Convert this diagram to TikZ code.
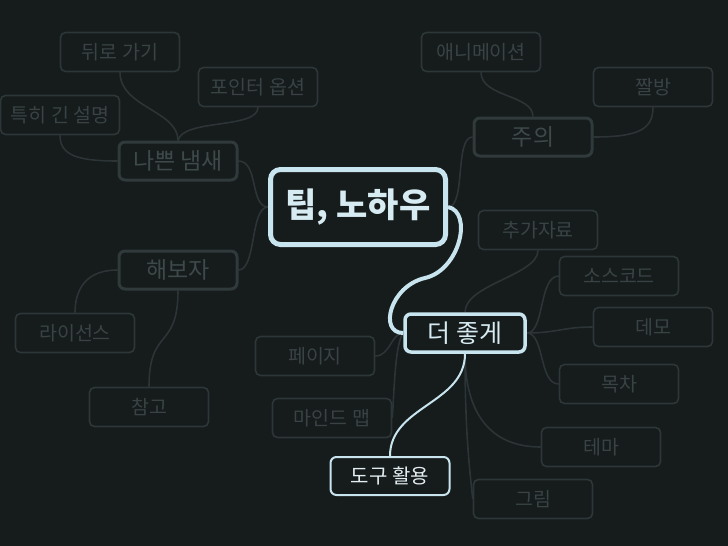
\documentclass[tikz,border=0pt]{standalone}
\usepackage{fontspec}
\newfontfamily\kr{Noto Sans CJK KR}
\definecolor{bg}{HTML}{161B1C}
\definecolor{leafborder}{HTML}{2E3738}
\definecolor{leaftext}{HTML}{394344}
\definecolor{midborder}{HTML}{313A3B}
\definecolor{midtext}{HTML}{3E494A}
\definecolor{lb}{HTML}{C8E4EE}
\definecolor{tiptext}{HTML}{D6EBF2}
\definecolor{tooltext}{HTML}{E4EEF1}
\definecolor{conn}{HTML}{2C3435}
\pgfdeclarelayer{bglayer}
\pgfsetlayers{bglayer,main}
\tikzset{
  leaf/.style={draw=leafborder, fill=bg, line width=1.6pt, rounded corners=5pt, minimum width=119pt, minimum height=39pt, inner sep=0pt, text=leaftext, font=\kr\fontsize{19.5}{22}\selectfont},
  mid/.style={draw=midborder, fill=bg, line width=3pt, rounded corners=6pt, minimum width=118pt, minimum height=38pt, inner sep=0pt, text=midtext, font=\kr\fontsize{23}{26}\selectfont},
  central/.style={draw=lb, fill=bg, line width=5pt, rounded corners=10pt, minimum width=175pt, minimum height=75pt, inner sep=0pt, text=tiptext, font=\kr\bfseries\fontsize{34}{38}\selectfont},
  better/.style={draw=lb, fill=bg, line width=3.5pt, rounded corners=6pt, minimum width=120pt, minimum height=38pt, inner sep=0pt, text=tiptext, font=\kr\fontsize{25}{28}\selectfont},
  tool/.style={draw=lb, fill=bg, line width=2pt, rounded corners=6pt, minimum width=119pt, minimum height=38pt, inner sep=0pt, text=tooltext, font=\kr\fontsize{20}{23}\selectfont},
  link/.style={draw=conn, line width=1.6pt},
  mainlink/.style={draw=lb, line width=4pt},
  sublink/.style={draw=lb, line width=2pt},
}
\begin{document}
\begin{tikzpicture}[x=1pt,y=-1pt]
\begin{pgfonlayer}{bglayer}
\fill[bg] (0,0) rectangle (728,546);
\end{pgfonlayer}
\useasboundingbox (0,0) rectangle (728,546);

\node[central] (tip) at (358,207) {팁, 노하우};
\node[mid] (bad) at (178,161) {나쁜 냄새};
\node[leaf] (back) at (120,52) {뒤로 가기};
\node[leaf] (pointer) at (258,87) {포인터 옵션};
\node[leaf] (long) at (60,115) {특히 긴 설명};
\node[mid] (try) at (178,270) {해보자};
\node[leaf] (license) at (75,333) {라이선스};
\node[leaf] (ref) at (149,407) {참고};
\node[mid] (care) at (533,137) {주의};
\node[leaf] (anim) at (481,52) {애니메이션};
\node[leaf] (zzal) at (653,87) {짤방};
\node[better] (better) at (465,333) {더 좋게};
\node[leaf] (extra) at (538,230) {추가자료};
\node[leaf] (src) at (619,276) {소스코드};
\node[leaf] (demo) at (653,327) {데모};
\node[leaf] (toc) at (619,384) {목차};
\node[leaf] (page) at (315,356) {페이지};
\node[leaf] (mind) at (332,418) {마인드 맵};
\node[tool] (tool) at (390,476) {도구 활용};
\node[leaf] (theme) at (601,447) {테마};
\node[leaf] (pic) at (533,499) {그림};

\begin{pgfonlayer}{bglayer}
\draw[link] (bad.north) .. controls +(0,-30) and +(0,35) .. (back.south);
\draw[link] (bad.north) .. controls +(5,-22) and +(0,22) .. (pointer.south);
\draw[link] (bad.west) .. controls +(-40,0) and +(0,20) .. (long.south);
\draw[link] (tip.west) .. controls +(-18,0) and +(20,0) .. (bad.east);
\draw[link] (tip.west) .. controls +(-18,0) and +(18,0) .. (try.east);
\draw[link] (try.west) .. controls +(-30,0) and +(0,-25) .. (license.north);
\draw[link] (try.south) .. controls +(0,60) and +(0,-60) .. (ref.north);
\draw[link] (tip.east) .. controls +(18,0) and +(-18,0) .. (care.west);
\draw[link] (care.north) .. controls +(0,-22) and +(0,25) .. (anim.south);
\draw[link] (care.east) .. controls +(45,0) and +(0,22) .. (zzal.south);
\draw[link] (better.north) .. controls +(0,-28) and +(0,25) .. (extra.south);
\draw[link] (better.east) .. controls +(18,0) and +(-20,0) .. (src.west);
\draw[link] (better.east) .. controls +(30,0) and +(-30,0) .. (demo.west);
\draw[link] (better.east) .. controls +(18,0) and +(-20,0) .. (toc.west);
\draw[link] (better.west) .. controls +(-12,0) and +(15,0) .. (page.east);
\draw[link] (better.west) .. controls +(-8,10) and +(2,-30) .. (mind.east);
\draw[link] (better.south) .. controls +(0,60) and +(-50,0) .. (theme.west);
\draw[link] (better.south) .. controls +(0,80) and +(-3,-30) .. (pic.west);
\draw[sublink] (better.south) .. controls +(0,50) and +(0,-50) .. (tool.north);
\draw[mainlink] (tip.east) .. controls +(25,5) and +(35,-8) .. ++(-23,71) .. controls +(-35,8) and +(-25,0) .. (better.west);
\end{pgfonlayer}
\end{tikzpicture}
\end{document}
